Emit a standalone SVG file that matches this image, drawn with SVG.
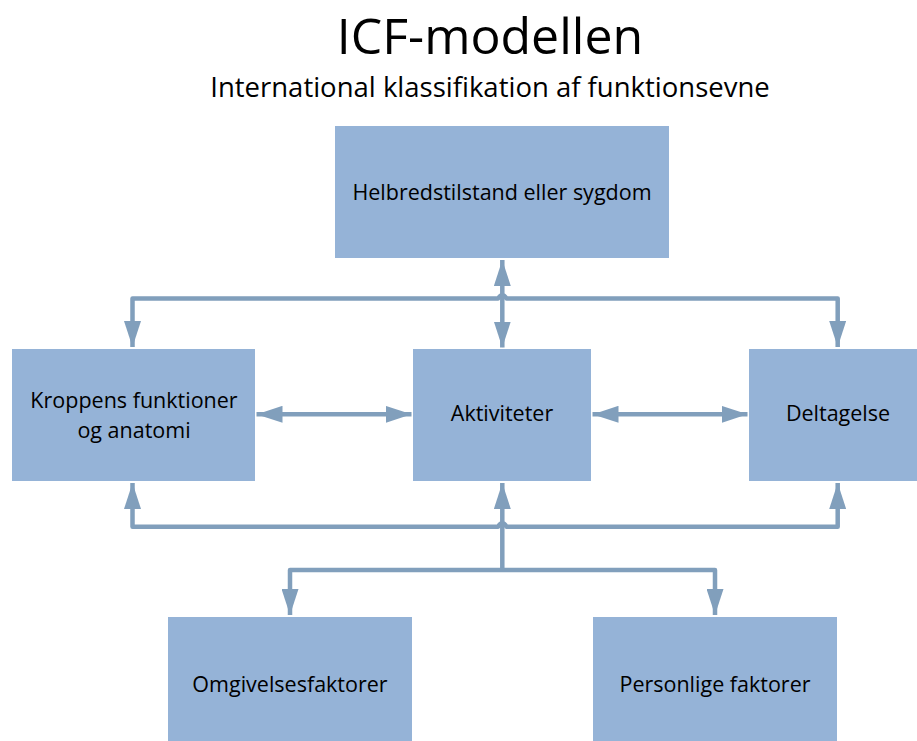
<svg xmlns="http://www.w3.org/2000/svg" width="917" height="741" viewBox="0 0 917 741">
<defs>
<style>
.box{fill:#95B3D7;}
.t{font-family:"Open Sans","Liberation Sans",sans-serif;fill:#000;}
.lbl{font-size:21.5px;}
.ln{stroke:#819FBC;stroke-width:4.5;fill:none;stroke-linejoin:round;}
.ah{fill:#819FBC;}
</style>
<marker id="arr" viewBox="0 0 26 17" refX="26" refY="8.5" markerWidth="26" markerHeight="17" markerUnits="userSpaceOnUse" orient="auto-start-reverse">
<path d="M0,0 L26,8.5 L0,17 Z" class="ah"/>
</marker>
</defs>
<rect width="917" height="741" fill="#fff"/>
<text class="t" x="490" y="54" font-size="50" text-anchor="middle">ICF-modellen</text>
<text class="t" x="490" y="97" font-size="27.5" text-anchor="middle">International klassifikation af funktionsevne</text>

<g id="connectors">
<path class="ln" d="M132.5,347 L132.5,298.5 L498,298.5 Q502.3,292 506.6,298.5 L837.7,298.5 L837.7,347" marker-start="url(#arr)" marker-end="url(#arr)"/>
<path class="ln" d="M502.3,260 L502.3,347.5" marker-start="url(#arr)" marker-end="url(#arr)"/>
<path class="ln" d="M132.5,483 L132.5,526.7 L498,526.7 Q502.3,520 506.6,526.7 L837.7,526.7 L837.7,483" marker-start="url(#arr)" marker-end="url(#arr)"/>
<path class="ln" d="M502.3,570 L502.3,483" marker-end="url(#arr)"/>
<path class="ln" d="M290,615 L290,570 L715,570 L715,615" marker-start="url(#arr)" marker-end="url(#arr)"/>
<path class="ln" d="M256.5,414.3 L411.5,414.3" marker-start="url(#arr)" marker-end="url(#arr)"/>
<path class="ln" d="M592.5,414.3 L747.5,414.3" marker-start="url(#arr)" marker-end="url(#arr)"/>
</g>

<g id="n-helbred"><rect class="box" x="335" y="126" width="334" height="132"/><text class="t lbl" x="502" y="200" text-anchor="middle">Helbredstilstand eller sygdom</text></g>
<g id="n-kroppens"><rect class="box" x="12" y="349" width="243" height="132"/><text class="t lbl" x="134" y="408" text-anchor="middle">Kroppens funktioner</text><text class="t lbl" x="134" y="438" text-anchor="middle">og anatomi</text></g>
<g id="n-aktiviteter"><rect class="box" x="413" y="349" width="178" height="132"/><text class="t lbl" x="502" y="421" text-anchor="middle">Aktiviteter</text></g>
<g id="n-deltagelse"><rect class="box" x="749" y="349" width="168" height="132"/><text class="t lbl" x="838" y="421" text-anchor="middle">Deltagelse</text></g>
<g id="n-omgivelses"><rect class="box" x="168" y="617" width="244" height="124"/><text class="t lbl" x="290" y="692" text-anchor="middle">Omgivelsesfaktorer</text></g>
<g id="n-personlige"><rect class="box" x="593" y="617" width="244" height="124"/><text class="t lbl" x="715" y="692" text-anchor="middle">Personlige faktorer</text></g>
</svg>
